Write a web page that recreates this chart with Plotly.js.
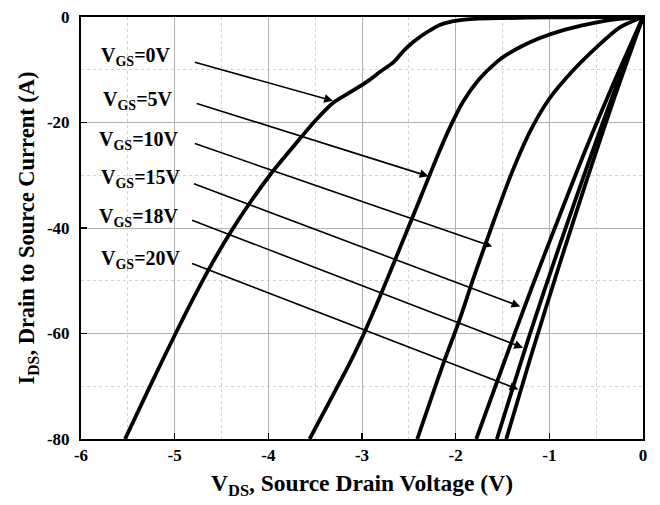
<!DOCTYPE html>
<html>
<head>
<meta charset="utf-8">
<script src="https://cdn.plot.ly/plotly-3.0.1.min.js"></script>
<style>html,body{margin:0;padding:0;background:#fff;}#chart{width:660px;height:505px;}</style>
</head>
<body>
<div id="chart"></div>
<script>
// Data (V_DS in V, I_DS in A)
const vgs0_x = [0,-0.5,-1.0,-1.5,-1.8,-1.95,-2.08,-2.17,-2.3,-2.45,-2.56,-2.66,-2.8,-2.95,-3.12,-3.31,-3.48,-3.66,-3.82,-3.98,-4.2,-4.4,-4.6,-4.8,-4.99,-5.25,-5.53];
const vgs0_y = [0,-0.02,-0.08,-0.2,-0.35,-0.6,-1.0,-1.5,-2.8,-4.7,-6.5,-8.5,-10.3,-12.3,-14.2,-16.3,-19.3,-23,-26.4,-29.9,-35.3,-40.7,-46.7,-53.3,-60,-69.5,-80];
const vgs5_x = [0,-0.3,-0.57,-0.85,-1.1,-1.3,-1.45,-1.56,-1.75,-1.92,-2.05,-2.17,-2.29,-2.45,-2.6,-2.75,-2.9,-3.0,-3.15,-3.35,-3.56];
const vgs5_y = [0,-0.45,-1.3,-2.5,-4.0,-5.6,-7.1,-8.5,-11.8,-16,-20.5,-25.3,-30.5,-37.5,-44,-50.5,-56.8,-60.8,-66.3,-73,-80];
const vgs10_x = [0,-0.25,-0.5,-0.75,-1.0,-1.2,-1.4,-1.6,-1.8,-1.97,-2.13,-2.41];
const vgs10_y = [0,-2,-5.8,-10.2,-15.5,-21.5,-29.5,-39,-49,-58,-65.6,-80];
const vgs15_x = [0,-0.3,-0.6,-0.9,-1.2,-1.5,-1.78];
const vgs15_y = [0,-12,-24.6,-38.1,-51.9,-66.3,-80];
const vgs18_x = [0,-0.3,-0.6,-0.9,-1.2,-1.56];
const vgs18_y = [0,-13.8,-28.5,-43.8,-59.7,-80];
const vgs20_x = [0,-0.3,-0.6,-0.9,-1.2,-1.46];
const vgs20_y = [0,-15,-30.9,-47.4,-64.5,-80];

const labelText = ['V<sub>GS</sub>=0V','V<sub>GS</sub>=5V','V<sub>GS</sub>=10V','V<sub>GS</sub>=15V','V<sub>GS</sub>=18V','V<sub>GS</sub>=20V'];
const labelX = [-5.81,-5.79,-5.83,-5.81,-5.83,-5.81];
const labelY = [-7.4,-15.9,-23.5,-30.7,-38.0,-45.9];
const tailX = [-4.80,-4.78,-4.80,-4.81,-4.83,-4.83];
const tailY = [-8.5,-16.3,-23.9,-31.5,-38.4,-46.6];
const headX = [-3.31,-2.29,-1.61,-1.31,-1.28,-1.33];
const headY = [-15.9,-30.2,-43.5,-54.9,-62.7,-70.6];

const xTicks = [-6,-5,-4,-3,-2,-1,0];
const yTicks = [0,-20,-40,-60,-80];

const FONT = 'Liberation Serif, Times New Roman, serif';
const seriesX = [vgs0_x, vgs5_x, vgs10_x, vgs15_x, vgs18_x, vgs20_x];
const seriesY = [vgs0_y, vgs5_y, vgs10_y, vgs15_y, vgs18_y, vgs20_y];

const traces = seriesX.map((xs, i) => ({
  x: xs, y: seriesY[i], type: 'scatter', mode: 'lines',
  line: {color: '#000', width: 3.8, shape: 'spline', smoothing: 0.8},
  hoverinfo: 'skip', showlegend: false
}));

const annotations = [];
labelText.forEach((t, i) => {
  annotations.push({
    x: labelX[i], y: labelY[i], xref: 'x', yref: 'y', text: t, showarrow: false,
    xanchor: 'left', yanchor: 'middle',
    font: {family: FONT, size: 20, color: '#000', weight: 'bold'}
  });
  annotations.push({
    x: headX[i], y: headY[i], ax: tailX[i], ay: tailY[i], xref: 'x', yref: 'y',
    axref: 'x', ayref: 'y', text: '', showarrow: true,
    arrowhead: 2, arrowsize: 1.1, arrowwidth: 1.6, arrowcolor: '#000', standoff: 0
  });
});

const layout = {
  width: 660, height: 505,
  margin: {l: 81, r: 17, t: 17, b: 66},
  paper_bgcolor: '#fff', plot_bgcolor: '#fff',
  showlegend: false,
  font: {family: FONT, color: '#000'},
  xaxis: {
    range: [-6, 0], tickvals: xTicks, ticktext: xTicks.map(String),
    ticks: 'inside', ticklen: 6, tickwidth: 1.5, tickcolor: '#000',
    showline: true, linewidth: 2, linecolor: '#000', mirror: true,
    showgrid: true, gridcolor: '#b0b0b0', gridwidth: 1, zeroline: false,
    minor: {dtick: 0.5, showgrid: true, gridcolor: '#d2d2d2', griddash: 'dot', gridwidth: 1, ticks: ''},
    tickfont: {family: FONT, size: 17, color: '#000', weight: 'bold'},
    title: {text: 'V<sub>DS</sub>, Source Drain Voltage (V)', standoff: 10,
            font: {family: FONT, size: 23.5, color: '#000', weight: 'bold'}}
  },
  yaxis: {
    range: [-80, 0], tickvals: yTicks, ticktext: yTicks.map(String),
    ticks: 'inside', ticklen: 6, tickwidth: 1.5, tickcolor: '#000',
    showline: true, linewidth: 2, linecolor: '#000', mirror: true,
    showgrid: true, gridcolor: '#b0b0b0', gridwidth: 1, zeroline: false,
    minor: {dtick: 10, showgrid: true, gridcolor: '#d2d2d2', griddash: 'dot', gridwidth: 1, ticks: ''},
    tickfont: {family: FONT, size: 17, color: '#000', weight: 'bold'},
    ticklabelstandoff: 6,
    title: {text: 'I<sub>DS</sub>, Drain to Source Current (A)', standoff: 6,
            font: {family: FONT, size: 22.5, color: '#000', weight: 'bold'}}
  },
  annotations: annotations
};

Plotly.newPlot('chart', traces, layout, {displayModeBar: false, staticPlot: true});
</script>
</body>
</html>
